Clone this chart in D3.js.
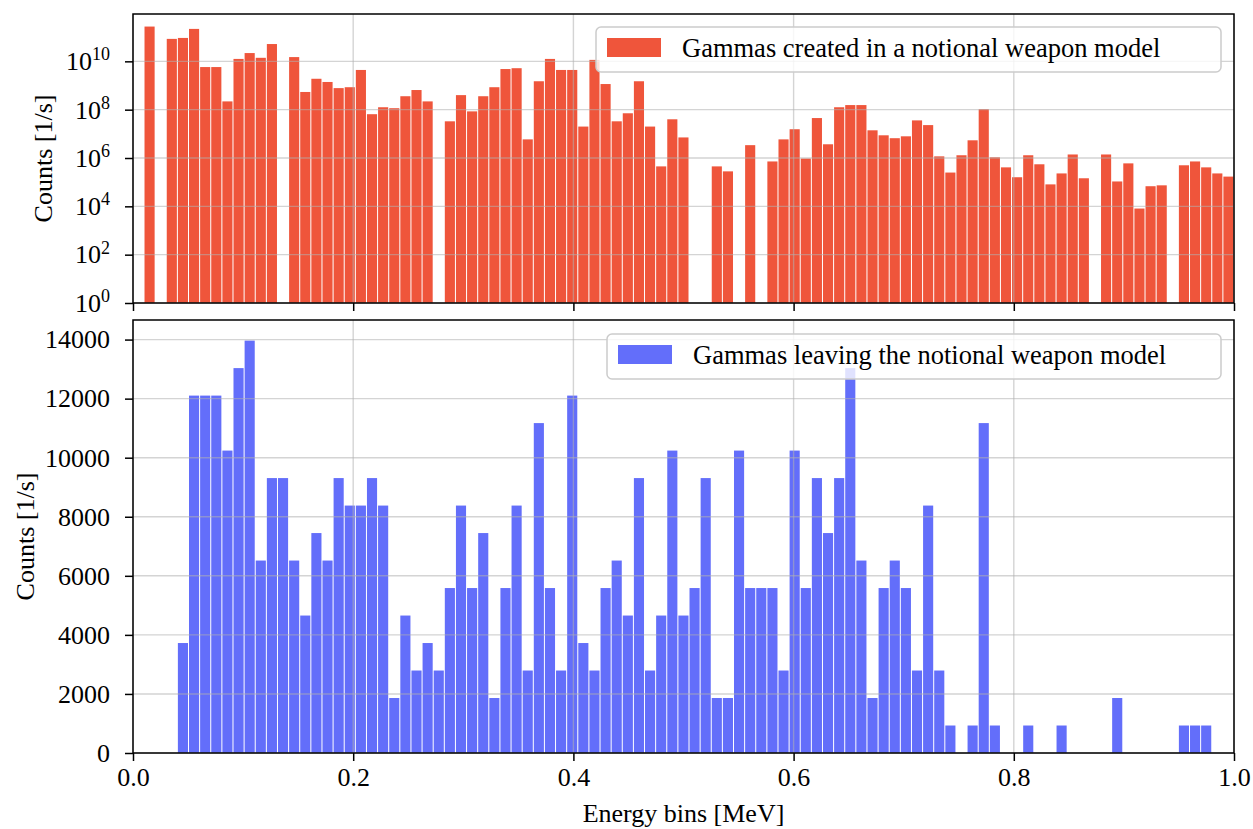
<!DOCTYPE html>
<html>
<head>
<meta charset="utf-8">
<script src="https://cdn.jsdelivr.net/npm/d3@7"></script>
<style>
  body { margin: 0; background: #fff; }
  svg { display: block; }
  text { font-family: "Liberation Serif", "Times New Roman", serif; fill: #000; }
</style>
</head>
<body>
<script>
// bins: 98 energy bins between 0.01 and 1.0 MeV
var nBins = 98;
var binEdges = d3.range(nBins + 1).map(function(i) { return 0.01 + i * 0.99 / nBins; });

// gammas created (counts/s), log scale panel, 0 = empty bin
var createdCounts = [
  2.75e11, 0, 8.5e10, 9.3e10, 2.2e11, 5.8e9, 5.8e9, 2.2e8, 1.26e10, 2.2e10,
  1.4e10, 5.2e10, 0, 1.5e10, 5.4e8, 1.9e9, 1.4e9, 7.8e8, 8.5e8, 4.4e9,
  6.5e7, 1.26e8, 1.15e8, 3.6e8, 6.5e8, 2.2e8, 0, 3.3e7, 4.0e8, 8.5e7,
  3.6e8, 8.5e8, 4.8e9, 5.2e9, 5.9e6, 1.5e9, 1.26e10, 4.4e9, 4.4e9, 2.0e7,
  1.15e10, 1.15e9, 3.3e7, 7.1e7, 1.5e9, 2.0e7, 4.5e5, 4.0e7, 7.1e6, 0,
  0, 4.5e5, 2.8e5, 0, 3.4e6, 0, 7.2e5, 5.9e6, 1.55e7, 9.5e5,
  4.5e7, 3.7e6, 1.26e8, 1.55e8, 1.55e8, 1.4e7, 8.7e6, 6.6e6, 7.9e6, 3.6e7,
  2.3e7, 1.17e6, 2.5e5, 1.3e6, 5.4e6, 1.05e8, 1.07e6, 4.1e5, 1.6e5, 1.3e6,
  5.5e5, 8.1e4, 2.3e5, 1.4e6, 1.45e5, 0, 1.4e6, 1.07e5, 6.0e5, 8.1e3,
  6.8e4, 7.4e4, 0, 5.0e5, 7.2e5, 4.1e5, 2.3e5, 1.7e5
];

// gammas leaving (counts/s), linear panel
var leavingCounts = [
  0, 0, 0, 3724, 12103, 12103, 12103, 10241, 13034, 13965,
  6517, 9310, 9310, 6517, 4655, 7448, 6517, 9310, 8379, 8379,
  9310, 8379, 1862, 4655, 2793, 3724, 2793, 5586, 8379, 5586,
  7448, 1862, 5586, 8379, 2793, 11172, 5586, 2793, 12103, 3724,
  2793, 5586, 6517, 4655, 9310, 2793, 4655, 10241, 4655, 5586,
  9310, 1862, 1862, 10241, 5586, 5586, 5586, 2793, 10241, 5586,
  9310, 7448, 9310, 13034, 6517, 1862, 5586, 6517, 5586, 2793,
  8379, 2793, 931, 0, 931, 11172, 931, 0, 0, 931,
  0, 0, 931, 0, 0, 0, 0, 1862, 0, 0,
  0, 0, 0, 931, 931, 931, 0, 0
];

var xTicks = [0, 0.2, 0.4, 0.6, 0.8, 1.0];
var logTicks = [1e0, 1e2, 1e4, 1e6, 1e8, 1e10];
var linTicks = [0, 2000, 4000, 6000, 8000, 10000, 12000, 14000];

var labelCreated = "Gammas created in a notional weapon model";
var labelLeaving = "Gammas leaving the notional weapon model";

var width = 1253, height = 829;
var margin = {left: 133, right: 19};
var topPanel = {y0: 14, y1: 303};
var botPanel = {y0: 320, y1: 753};

var svg = d3.select("body").append("svg")
    .attr("width", width)
    .attr("height", height);

var x = d3.scaleLinear().domain([0, 1]).range([margin.left, width - margin.right]);

var yLog = d3.scaleLog().domain([1, 9.1e11]).range([topPanel.y1, topPanel.y0]);
var yLin = d3.scaleLinear().domain([0, 14663]).range([botPanel.y1, botPanel.y0]);

function makeBars(data) {
  return data.map(function(v, i) { return {x0: binEdges[i], x1: binEdges[i + 1], v: v}; })
             .filter(function(d) { return d.v > 0; });
}

function drawPanel(opt) {
  var g = svg.append("g");
  var y = opt.y;
  var base = y.range()[0];

  // bars
  g.selectAll("rect.bar")
    .data(makeBars(opt.data))
    .enter().append("rect")
      .attr("class", "bar")
      .attr("x", function(d) { return x(d.x0) + 0.5; })
      .attr("width", function(d) { return x(d.x1) - x(d.x0) - 1; })
      .attr("y", function(d) { return y(d.v); })
      .attr("height", function(d) { return base - y(d.v); })
      .attr("fill", opt.color);

  // grid on top of bars
  g.selectAll("line.hgrid")
    .data(opt.yTicks)
    .enter().append("line")
      .attr("x1", x.range()[0]).attr("x2", x.range()[1])
      .attr("y1", function(d) { return y(d); })
      .attr("y2", function(d) { return y(d); })
      .attr("stroke", "#b0b0b0").attr("stroke-opacity", 0.55).attr("stroke-width", 1.4);
  g.selectAll("line.vgrid")
    .data(xTicks)
    .enter().append("line")
      .attr("x1", function(d) { return x(d); })
      .attr("x2", function(d) { return x(d); })
      .attr("y1", y.range()[1]).attr("y2", base)
      .attr("stroke", "#b0b0b0").attr("stroke-opacity", 0.55).attr("stroke-width", 1.4);

  // legend
  var lg = g.append("g");
  lg.append("rect")
    .attr("x", opt.legend.x).attr("y", opt.legend.y)
    .attr("width", opt.legend.w).attr("height", 45)
    .attr("rx", 5)
    .attr("fill", "#fff").attr("fill-opacity", 0.8)
    .attr("stroke", "#cccccc").attr("stroke-width", 1.5);
  lg.append("rect")
    .attr("x", opt.legend.x + 11).attr("y", opt.legend.y + 11)
    .attr("width", 54).attr("height", 19)
    .attr("fill", opt.color);
  lg.append("text")
    .attr("x", opt.legend.x + 86).attr("y", opt.legend.y + 30)
    .style("font-size", "26.5px")
    .text(opt.label);

  // y axis
  var yAxis = d3.axisLeft(y)
      .tickValues(opt.yTicks)
      .tickSize(opt.yTickLen)
      .tickPadding(opt.yTickPad)
      .tickFormat(opt.yFormat);
  var ya = g.append("g")
      .attr("transform", "translate(" + x.range()[0] + ",0)")
      .call(yAxis);
  ya.select(".domain").remove();
  ya.selectAll(".tick line").attr("stroke", "#000").attr("stroke-width", 1.5);
  ya.selectAll(".tick text").style("font-size", "26px").style("font-family", "Liberation Serif");
  if (opt.logLabels) {
    ya.selectAll(".tick text").each(function(d) {
      var t = d3.select(this);
      var e = Math.round(Math.log10(d));
      t.text(null);
      t.append("tspan").text("10");
      t.append("tspan").attr("dy", "-0.55em").style("font-size", "18px").text(e);
    });
  }

  // x axis
  var xAxis = d3.axisBottom(x)
      .tickValues(xTicks)
      .tickSize(8)
      .tickPadding(7)
      .tickFormat(opt.xLabels ? d3.format(".1f") : "");
  var xa = g.append("g")
      .attr("transform", "translate(0," + base + ")")
      .call(xAxis);
  xa.select(".domain").remove();
  xa.selectAll(".tick line").attr("stroke", "#000").attr("stroke-width", 1.5);
  xa.selectAll(".tick text").style("font-size", "26px").style("font-family", "Liberation Serif");

  // frame
  g.append("rect")
    .attr("x", x.range()[0]).attr("y", y.range()[1])
    .attr("width", x.range()[1] - x.range()[0])
    .attr("height", base - y.range()[1])
    .attr("fill", "none").attr("stroke", "#000").attr("stroke-width", 1.5);

  // y label
  g.append("text")
    .attr("transform", "translate(" + opt.yLabelX + "," + (y.range()[1] + base) / 2 + ") rotate(-90)")
    .attr("text-anchor", "middle")
    .attr("dy", "0.35em")
    .style("font-size", "26px")
    .text("Counts [1/s]");
}

drawPanel({
  data: createdCounts, y: yLog, color: "#EF553B",
  yTicks: logTicks, yFormat: function(d) { return d; }, logLabels: true,
  yTickLen: 8, yTickPad: 15, yLabelX: 43,
  xLabels: false,
  legend: {x: 596, y: 27, w: 625}, label: labelCreated
});

drawPanel({
  data: leavingCounts, y: yLin, color: "#636EFA",
  yTicks: linTicks, yFormat: d3.format("d"), logLabels: false,
  yTickLen: 8, yTickPad: 15, yLabelX: 25,
  xLabels: true,
  legend: {x: 607, y: 334, w: 614}, label: labelLeaving
});

svg.append("text")
  .attr("x", (x.range()[0] + x.range()[1]) / 2)
  .attr("y", 822)
  .attr("text-anchor", "middle")
  .style("font-size", "26px")
  .text("Energy bins [MeV]");
</script>
</body>
</html>
